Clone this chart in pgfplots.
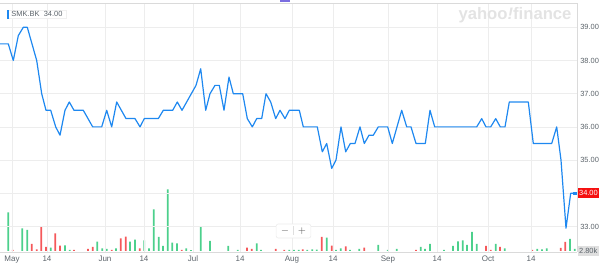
\documentclass[border=0pt]{standalone}
\usepackage{pgfplots}
\pgfplotsset{compat=1.18}
\usepackage{fontspec}
\setmainfont{Liberation Sans}
\setsansfont{Liberation Sans}
\definecolor{linecol}{HTML}{1E88F0}
\definecolor{upcol}{HTML}{4CD08C}
\definecolor{downcol}{HTML}{F5585A}
\definecolor{gridcol}{HTML}{EDEDED}
\definecolor{labcol}{HTML}{5B636A}
\definecolor{redbox}{HTML}{F51010}
\definecolor{markcol}{HTML}{7B6EE0}
\begin{document}
\begin{tikzpicture}
% ---------------- volume ----------------
\begin{axis}[at={(0,0)}, anchor=south west, scale only axis,
  width=432.75pt, height=186.75pt,
  xmin=0, xmax=577, ymin=-1, ymax=248,
  axis lines=none, clip=false]
\addplot[ybar, bar width=1.3pt, bar shift=0pt, fill=upcol, draw=none] coordinates {
(8.3,38.7)(22.3,22.7)(27.3,21)(50.7,3.3)(65,5.7)(69.7,1)(97.3,9.3)(102.3,2.7)(106.7,2)
(116,2.7)(130,9.3)(135,11.3)(144.3,10.7)(149,2.7)(153.7,41.7)(158.7,14)(163,5)(167.7,61.7)
(172.3,8.3)(177,7.7)(186.3,2.7)(191,0.8)(200.7,24)(210,10)(228.3,5)(237.7,1)(256.7,7.7)(261,1)
(289.3,1)(294,1)(298.7,1)(307.3,1)(312.3,1.7)(316.7,1.3)(326.7,13.3)(336,1)(340.7,2.7)(350,1)
(359.3,2)(378.3,6)(387.7,1)(396.7,2)(420.7,4)(425,2)(430,7)(444,1)(453,5)(458,9.7)(462.7,10.7)
(467,6)(472,19)(476.7,7)(495.7,7)(504.7,2.7)(537.3,2)(542,1.7)(546.7,2.7)(570,12)(574.7,2)
};
\addplot[ybar, bar width=1.3pt, bar shift=0pt, fill=downcol, draw=none] coordinates {
(12.7,1)(31.7,7)(36.7,1.7)(41.3,24.3)(46,4)(55.3,17.7)(60,5.3)(74,1)(88,2)(92.7,4)(111.7,1)
(120.7,12.7)(125.7,14.3)(139.7,2.7)(181.7,1)(247,3.3)(251.7,2)(275.7,2)(284.3,1)(302.7,1.7)
(321.7,14)(331.7,5.3)(345.7,4.7)(364.3,3.3)(416,1)(486,5)(490.7,1)(500,4)(532.3,1)(560.7,3)(565.3,9)
};
\end{axis}
% ---------------- price ----------------
\begin{axis}[at={(0,0)}, anchor=south west, scale only axis,
  width=432.75pt, height=186.75pt,
  xmin=0, xmax=577, ymin=32.232, ymax=39.732,
  axis x line*=bottom, axis y line*=right,
  axis line style={draw=gridcol!60!gray!60, line width=0.5pt},
  x axis line style={-}, y axis line style={-},
  xtick={12,47,105,144,193,240,292,333,388,437,488,531},
  xticklabels={May,14,Jun,14,Jul,14,Aug,14,Sep,14,Oct,14},
  ytick={33,34,35,36,37,38,39},
  major tick length=0pt,
  grid=major, grid style={gridcol, line width=0.5pt},
  yticklabel pos=right,
  /pgf/number format/assume math mode=true,
  /pgf/number format/.cd, fixed, fixed zerofill, precision=2, /tikz/.cd,
  yticklabel style={anchor=west, inner sep=0pt, xshift=2.25pt,
    font=\fontsize{5.6}{6}\selectfont, text=labcol},
  xticklabel style={anchor=north, inner sep=0pt, yshift=-2.6pt,
    font=\fontsize{6}{7}\selectfont, text=labcol},
  clip=false]
\draw[gridcol!60!gray!60, line width=0.5pt] (axis cs:0,39.732) -- (axis cs:577,39.732);
\fill[markcol] (axis cs:280,39.81) rectangle (axis cs:290,39.75);
\node[text=gray!22, font=\bfseries\fontsize{12.5}{13}\selectfont] at (axis cs:515,39.37) {yahoo{\itshape !}finance};
\addplot[linecol, line width=0.9pt, line join=round] coordinates {
(0,38.5)(8.3,38.5)(13.3,38.0)(18.3,38.75)(23.3,39.0)(27.3,39.0)(36.7,38.0)(41.7,37.0)(46,36.5)
(50.7,36.5)(55.7,36.0)(60,35.75)(65,36.5)(69.3,36.75)(74,36.5)(83.3,36.5)(92.7,36.0)(101.7,36.0)
(106.7,36.5)(111.7,36.0)(116.7,36.75)(126,36.25)(135,36.25)(140,36.0)(144.3,36.25)(158.3,36.25)
(163.3,36.5)(172.7,36.5)(177.3,36.75)(182,36.5)(196,37.25)(200.7,37.75)(205.7,36.5)(210,37.0)
(215,37.25)(219.3,37.25)(224,36.5)(229,37.5)(233.3,37.0)(242.7,37.0)(247.3,36.25)(252.3,36.0)
(256.7,36.25)(261.7,36.25)(266,37.0)(270.7,36.75)(275.7,36.25)(280,36.5)(285,36.25)(289.3,36.5)
(299.3,36.5)(303.3,36.0)(317.3,36.0)(322.3,35.25)(326.7,35.5)(331.7,34.75)(336,35.0)(341,36.0)
(345.7,35.25)(350.3,35.5)(355,35.5)(360,36.0)(364.3,35.5)(369,35.75)(373.3,35.75)(378.3,36.0)
(387.7,36.0)(392.3,35.5)(397,36.0)(401.7,36.5)(406.7,36.0)(411,36.0)(416,35.5)(425.3,35.5)
(430,36.5)(434.7,36.0)(476.7,36.0)(481.7,36.25)(486,36.0)(490.7,36.0)(495.7,36.25)(500.3,36.0)
(505,36.0)(509.3,36.75)(528.3,36.75)(533.3,35.5)(551.7,35.5)(556.7,36.0)(561,35.0)(566,32.95)
(570.7,34.0)(575,34.0)
};
\addplot[linecol, only marks, mark=square*, mark size=1pt] coordinates {(575,34.0)};
% last price box
\node[fill=redbox, text=white, anchor=west, inner sep=1pt, minimum height=7.5pt,
  font=\fontsize{5.6}{6}\selectfont] at (axis cs:577.5,34) {34.00};
% volume box
\node[fill=gray!25, text=labcol, anchor=west, inner sep=1pt, minimum height=7.5pt,
  font=\fontsize{5.6}{6}\selectfont] at (axis cs:577.5,32.262) {2.80k};
% ticker label
\node[fill=white, draw=gray!12, anchor=west, inner xsep=2.5pt, inner ysep=1.2pt,
  font=\fontsize{5.6}{6}\selectfont, text=labcol] (lbl) at (axis cs:7,39.40) {\hspace{0.6pt}SMK.BK\ \ 34.00};
\fill[linecol] (lbl.north west) rectangle ([xshift=1.6pt]lbl.south west);
% zoom buttons
\node[fill=white, draw=gray!15, rounded corners=1.5pt, minimum width=26pt,
  minimum height=10.5pt, inner sep=0pt] at (axis cs:293.5,32.864) {};
\draw[gray!25, line width=0.4pt] (axis cs:293.5,33.0) -- (axis cs:293.5,32.73);
\node[text=gray!70!black, font=\fontsize{7}{7}\selectfont] at (axis cs:285,32.87) {$-$};
\node[text=gray!70!black, font=\fontsize{7}{7}\selectfont] at (axis cs:302,32.87) {$+$};
\end{axis}
\pgfresetboundingbox
\path[use as bounding box] (0,-10.5pt) rectangle (450pt,189pt);
\end{tikzpicture}
\end{document}
